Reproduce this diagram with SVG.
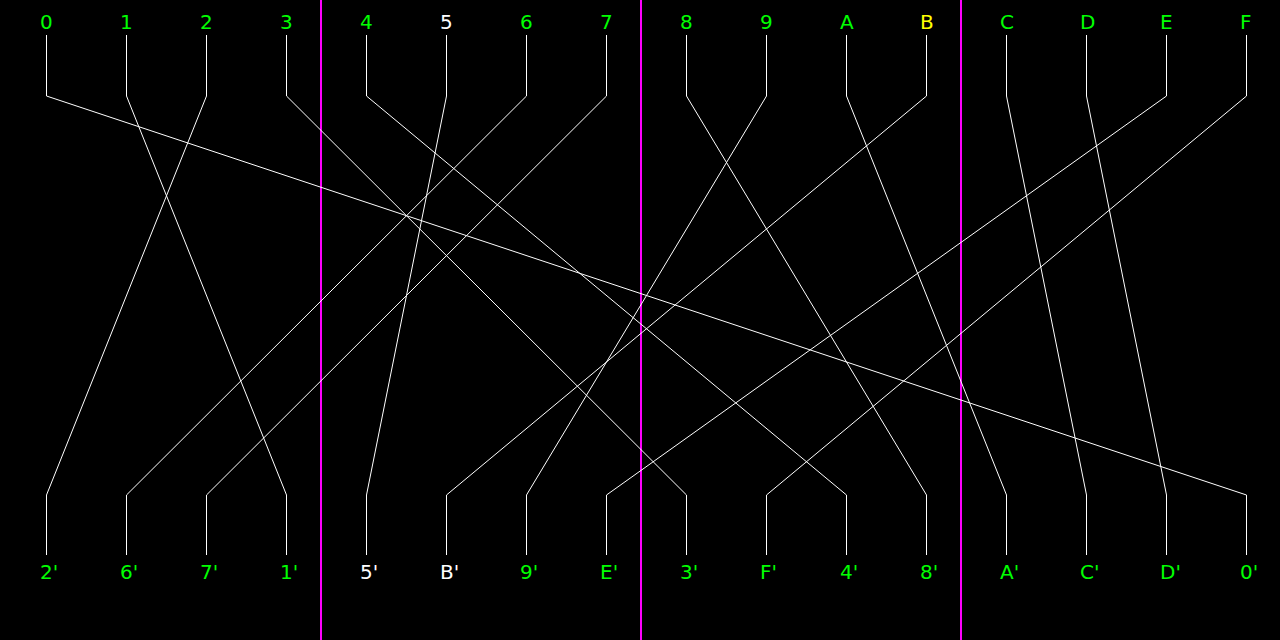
<svg xmlns="http://www.w3.org/2000/svg" width="1280" height="640" viewBox="0 0 1280 640">
<style>
.bg{fill:#000}
.lbl{font-family:"DejaVu Sans",sans-serif;font-size:20px;fill:#00ff00}
.w{fill:#ffffff}
.y{fill:#ffff00}
.wire{fill:none;stroke:#ffffff;stroke-width:1}
.sep{stroke:#ff00ff;stroke-width:2}
</style>
<rect class="bg" x="0" y="0" width="1280" height="640"/>
<g id="separators">
<line class="sep" x1="321" y1="0" x2="321" y2="640"/>
<line class="sep" x1="641" y1="0" x2="641" y2="640"/>
<line class="sep" x1="961" y1="0" x2="961" y2="640"/>
</g>
<g id="connectors">
<polyline class="wire" points="46.5,35 46.5,96 1246.5,495 1246.5,555"/>
<polyline class="wire" points="126.5,35 126.5,96 286.5,495 286.5,555"/>
<polyline class="wire" points="206.5,35 206.5,96 46.5,495 46.5,555"/>
<polyline class="wire" points="286.5,35 286.5,96 686.5,495 686.5,555"/>
<polyline class="wire" points="366.5,35 366.5,96 846.5,495 846.5,555"/>
<polyline class="wire" points="446.5,35 446.5,96 366.5,495 366.5,555"/>
<polyline class="wire" points="526.5,35 526.5,96 126.5,495 126.5,555"/>
<polyline class="wire" points="606.5,35 606.5,96 206.5,495 206.5,555"/>
<polyline class="wire" points="686.5,35 686.5,96 926.5,495 926.5,555"/>
<polyline class="wire" points="766.5,35 766.5,96 526.5,495 526.5,555"/>
<polyline class="wire" points="846.5,35 846.5,96 1006.5,495 1006.5,555"/>
<polyline class="wire" points="926.5,35 926.5,96 446.5,495 446.5,555"/>
<polyline class="wire" points="1006.5,35 1006.5,96 1086.5,495 1086.5,555"/>
<polyline class="wire" points="1086.5,35 1086.5,96 1166.5,495 1166.5,555"/>
<polyline class="wire" points="1166.5,35 1166.5,96 606.5,495 606.5,555"/>
<polyline class="wire" points="1246.5,35 1246.5,96 766.5,495 766.5,555"/>
</g>
<g id="top-labels">
<text id="t0" class="lbl" x="40" y="29">0</text>
<text id="t1" class="lbl" x="120" y="29">1</text>
<text id="t2" class="lbl" x="200" y="29">2</text>
<text id="t3" class="lbl" x="280" y="29">3</text>
<text id="t4" class="lbl" x="360" y="29">4</text>
<text id="t5" class="lbl w" x="440" y="29">5</text>
<text id="t6" class="lbl" x="520" y="29">6</text>
<text id="t7" class="lbl" x="600" y="29">7</text>
<text id="t8" class="lbl" x="680" y="29">8</text>
<text id="t9" class="lbl" x="760" y="29">9</text>
<text id="tA" class="lbl" x="840" y="29">A</text>
<text id="tB" class="lbl y" x="920" y="29">B</text>
<text id="tC" class="lbl" x="1000" y="29">C</text>
<text id="tD" class="lbl" x="1080" y="29">D</text>
<text id="tE" class="lbl" x="1160" y="29">E</text>
<text id="tF" class="lbl" x="1240" y="29">F</text>
</g>
<g id="bottom-labels">
<text id="b0" class="lbl" x="40" y="579">2'</text>
<text id="b1" class="lbl" x="120" y="579">6'</text>
<text id="b2" class="lbl" x="200" y="579">7'</text>
<text id="b3" class="lbl" x="280" y="579">1'</text>
<text id="b4" class="lbl w" x="360" y="579">5'</text>
<text id="b5" class="lbl w" x="440" y="579">B'</text>
<text id="b6" class="lbl" x="520" y="579">9'</text>
<text id="b7" class="lbl" x="600" y="579">E'</text>
<text id="b8" class="lbl" x="680" y="579">3'</text>
<text id="b9" class="lbl" x="760" y="579">F'</text>
<text id="b10" class="lbl" x="840" y="579">4'</text>
<text id="b11" class="lbl" x="920" y="579">8'</text>
<text id="b12" class="lbl" x="1000" y="579">A'</text>
<text id="b13" class="lbl" x="1080" y="579">C'</text>
<text id="b14" class="lbl" x="1160" y="579">D'</text>
<text id="b15" class="lbl" x="1240" y="579">0'</text>
</g>
</svg>
